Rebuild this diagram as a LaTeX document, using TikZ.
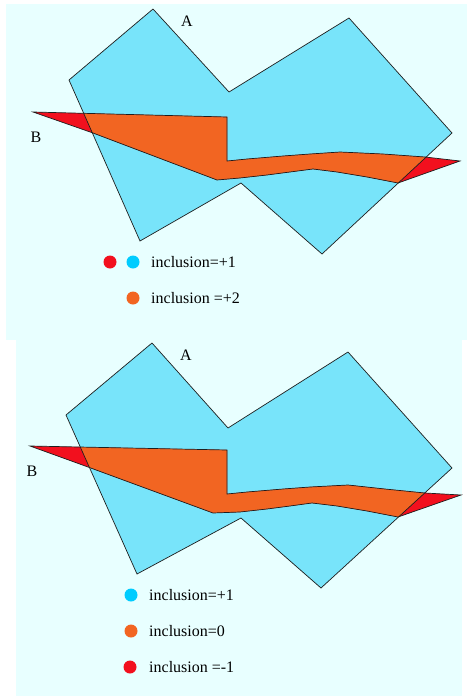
\documentclass[tikz,border=0pt]{standalone}
\usepackage{fontspec}
\setmainfont{Liberation Serif}
\definecolor{paper}{HTML}{E8FFFF}
\definecolor{polyA}{HTML}{78E4FA}
\definecolor{dotA}{HTML}{00CCFF}
\definecolor{overlap}{HTML}{F26522}
\definecolor{outside}{HTML}{F2101E}
\definecolor{edge}{HTML}{1E1E1E}
\tikzset{
  panel/.style={fill=paper, draw=none},
  regionA/.style={fill=polyA},
  regionB/.style={fill=outside},
  regionAB/.style={fill=overlap},
  outline/.style={draw=edge, line width=0.7pt, line join=miter},
  dot/.style={circle, inner sep=0pt, minimum size=13pt, draw=none},
  lbl/.style={anchor=west, inner sep=0pt, font=\fontsize{16}{18}\selectfont},
  tag/.style={inner sep=0pt, font=\fontsize{16}{18}\selectfont},
}
\begin{document}
\begin{tikzpicture}[x=1pt, y=-1pt]
\useasboundingbox (0,0) rectangle (467,696);
\fill[white] (0,0) rectangle (467,696);

% ---------- upper panel ----------
\fill[panel] (6,4) rectangle (467,340);
\def\pathA{(153,9) -- (229,92) -- (349,18) -- (452,133) -- (322,254) -- (241,183) -- (140,241) -- (69,80) -- cycle}
\def\pathB{(33,112) -- (227,117) -- (227,161) -- (247,159) -- (283,156) -- (310,154) -- (340,152) -- (383,154) -- (425,157) -- (460,161) -- (398,183) -- (367,177) -- (337,172) -- (313,169) -- (290,172) -- (267,175) -- (240,178) -- (217,180) -- (93,133) -- cycle}
\fill[regionA] \pathA;
\fill[regionB] \pathB;
\begin{scope}
  \clip \pathA;
  \fill[regionAB] \pathB;
\end{scope}
\draw[outline] \pathA;
\draw[outline] \pathB;
\node[tag] (A1) at (187,21) {A};
\node[tag] (B1) at (36,137) {B};
\node[dot, fill=outside] (d1) at (110,262) {};
\node[dot, fill=dotA] (d2) at (133,262) {};
\node[lbl] (t1) at (151,262) {inclusion=+1};
\node[dot, fill=overlap] (d3) at (133,298) {};
\node[lbl] (t2) at (151,298) {inclusion =+2};

% ---------- lower panel ----------
\fill[panel] (16,340) rectangle (462,696);
\def\pathC{(152,343) -- (228,428) -- (348,352) -- (452,468) -- (321,588) -- (241,518) -- (137,574) -- (66,415) -- cycle}
\def\pathD{(30,446) -- (227,450) -- (227,494) -- (247,492) -- (283,489) -- (310,487) -- (348,485) -- (385,489) -- (425,493) -- (461,495) -- (398,517) -- (367,511) -- (337,506) -- (312,503) -- (290,506) -- (267,509) -- (240,512) -- (213,513) -- (88,467) -- cycle}
\fill[regionA] \pathC;
\fill[regionB] \pathD;
\begin{scope}
  \clip \pathC;
  \fill[regionAB] \pathD;
\end{scope}
\draw[outline] \pathC;
\draw[outline] \pathD;
\node[tag] (A2) at (186,355) {A};
\node[tag] (B2) at (32,471) {B};
\node[dot, fill=dotA] (e1) at (131,595) {};
\node[lbl] (u1) at (149,595) {inclusion=+1};
\node[dot, fill=overlap] (e2) at (131,631) {};
\node[lbl] (u2) at (149,631) {inclusion=0};
\node[dot, fill=outside] (e3) at (130,667) {};
\node[lbl] (u3) at (149,667) {inclusion =-1};
\end{tikzpicture}
\end{document}
